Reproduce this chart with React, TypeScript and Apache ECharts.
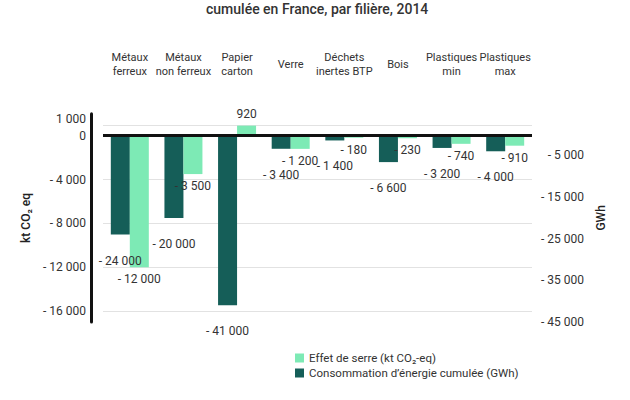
import React, { useEffect, useRef } from "react";
import * as echarts from "echarts";

const categories = [
  "Métaux\nferreux",
  "Métaux\nnon ferreux",
  "Papier\ncarton",
  "Verre",
  "Déchets\ninertes BTP",
  "Bois",
  "Plastiques\nmin",
  "Plastiques\nmax",
];
// Effet de serre (kt CO2-eq)
const gesValues = [-12000, -3500, 920, -1200, -180, -230, -740, -910];
// Consommation d'énergie cumulée (GWh)
const energyValues = [-24000, -20000, -41000, -3400, -1400, -6600, -3200, -4000];
// labelled ticks of the left axis
const leftTicks = [1000, 0, -4000, -8000, -12000, -16000];

const gesName = "Effet de serre (kt CO₂-eq)";
const energyName = "Consommation d’énergie cumulée (GWh)";
const titleText = "cumulée en France, par filière, 2014";

const DARK = "#155e58";
const LIGHT = "#7deab5";
const TEXT = "#333333";
const FONT = "Roboto, sans-serif";

function fmt(v: number): string {
  const s = Math.abs(v)
    .toString()
    .replace(/\B(?=(\d{3})+(?!\d))/g, " ");
  return v < 0 ? "- " + s : s;
}

export default function App() {
  const ref = useRef<HTMLDivElement>(null);
  useEffect(() => {
    if (!ref.current) return;
    const chart = echarts.init(ref.current, null, { renderer: "svg" });
    const leftMin = -17000;
    const leftMax = 2000;
    const leftInterval = 1000;
    const topTick = Math.max(...leftTicks);
    const splitColors: string[] = [];
    for (let v = leftMin; v <= leftMax; v += leftInterval) {
      splitColors.push(leftTicks.indexOf(v) >= 0 ? "#e2e2e2" : "rgba(0,0,0,0)");
    }
    const axisFont = { fontSize: 12, color: TEXT, fontFamily: FONT };
    chart.setOption({
      animation: false,
      textStyle: { fontFamily: FONT },
      title: {
        text: titleText,
        left: 201,
        top: -3,
        textStyle: { fontSize: 14, fontWeight: 500, color: TEXT, fontFamily: FONT },
      },
      grid: { left: 103, right: 98, top: 113.8, bottom: 78 },
      legend: {
        orient: "vertical",
        left: 295,
        top: 352,
        padding: 0,
        itemWidth: 9,
        itemHeight: 9,
        itemGap: 3,
        icon: "rect",
        textStyle: { fontSize: 11.5, color: TEXT, fontFamily: FONT },
        data: [gesName, energyName],
      },
      xAxis: {
        type: "category",
        data: categories,
        position: "top",
        axisLine: { show: false },
        axisTick: { show: false },
        splitLine: { show: false },
        axisLabel: {
          interval: 0,
          margin: 49,
          verticalAlign: "middle",
          lineHeight: 14,
          fontSize: 11,
          color: TEXT,
          fontFamily: FONT,
        },
      },
      yAxis: [
        {
          type: "value",
          min: leftMin,
          max: leftMax,
          interval: leftInterval,
          offset: 12,
          axisLine: { show: true, lineStyle: { color: "#111", width: 3 } },
          axisTick: { show: false },
          axisLabel: {
            margin: 5,
            ...axisFont,
            formatter: (v: number) =>
              leftTicks.indexOf(v) < 0 ? "" : v === topTick ? "{up|" + fmt(v) + "}" : fmt(v),
            rich: { up: { ...axisFont, padding: [0, 0, 12, 0] } },
          },
          splitLine: { show: true, lineStyle: { color: splitColors, width: 1 } },
          name: "kt CO₂ eq",
          nameLocation: "middle",
          nameRotate: 90,
          nameGap: 43,
          nameTextStyle: { fontSize: 12, fontWeight: 500, color: "#222", fontFamily: FONT },
        },
        {
          type: "value",
          position: "right",
          min: -45000,
          max: 5000,
          interval: 10000,
          axisLine: { show: false },
          axisTick: { show: false },
          splitLine: { show: false },
          axisLabel: {
            align: "right",
            margin: 52,
            ...axisFont,
            formatter: (v: number) => (v > 0 ? "" : fmt(v)),
          },
          name: "GWh",
          nameLocation: "middle",
          nameRotate: 90,
          nameGap: 62,
          nameTextStyle: { fontSize: 12, fontWeight: 500, color: "#222", fontFamily: FONT },
        },
      ],
      series: [
        {
          type: "bar",
          name: energyName,
          yAxisIndex: 1,
          data: energyValues,
          barWidth: 19,
          barGap: "0%",
          itemStyle: { color: DARK },
          label: {
            show: true,
            position: "outside",
            distance: 20,
            ...axisFont,
            formatter: (p: any) => fmt(p.value),
          },
        },
        {
          type: "bar",
          name: gesName,
          yAxisIndex: 0,
          data: gesValues,
          barWidth: 19,
          barGap: "0%",
          itemStyle: { color: LIGHT },
          label: {
            show: true,
            position: "outside",
            distance: 6,
            ...axisFont,
            formatter: (p: any) => fmt(p.value),
          },
          markLine: {
            silent: true,
            symbol: ["none", "none"],
            label: { show: false },
            lineStyle: { color: "#111", width: 3, type: "solid" },
            data: [{ yAxis: 0 }],
          },
        },
      ],
    });
    return () => chart.dispose();
  }, []);
  return (
    <div
      ref={ref}
      style={{ position: "fixed", left: 0, top: 0, width: 630, height: 400, background: "#fff" }}
    />
  );
}
